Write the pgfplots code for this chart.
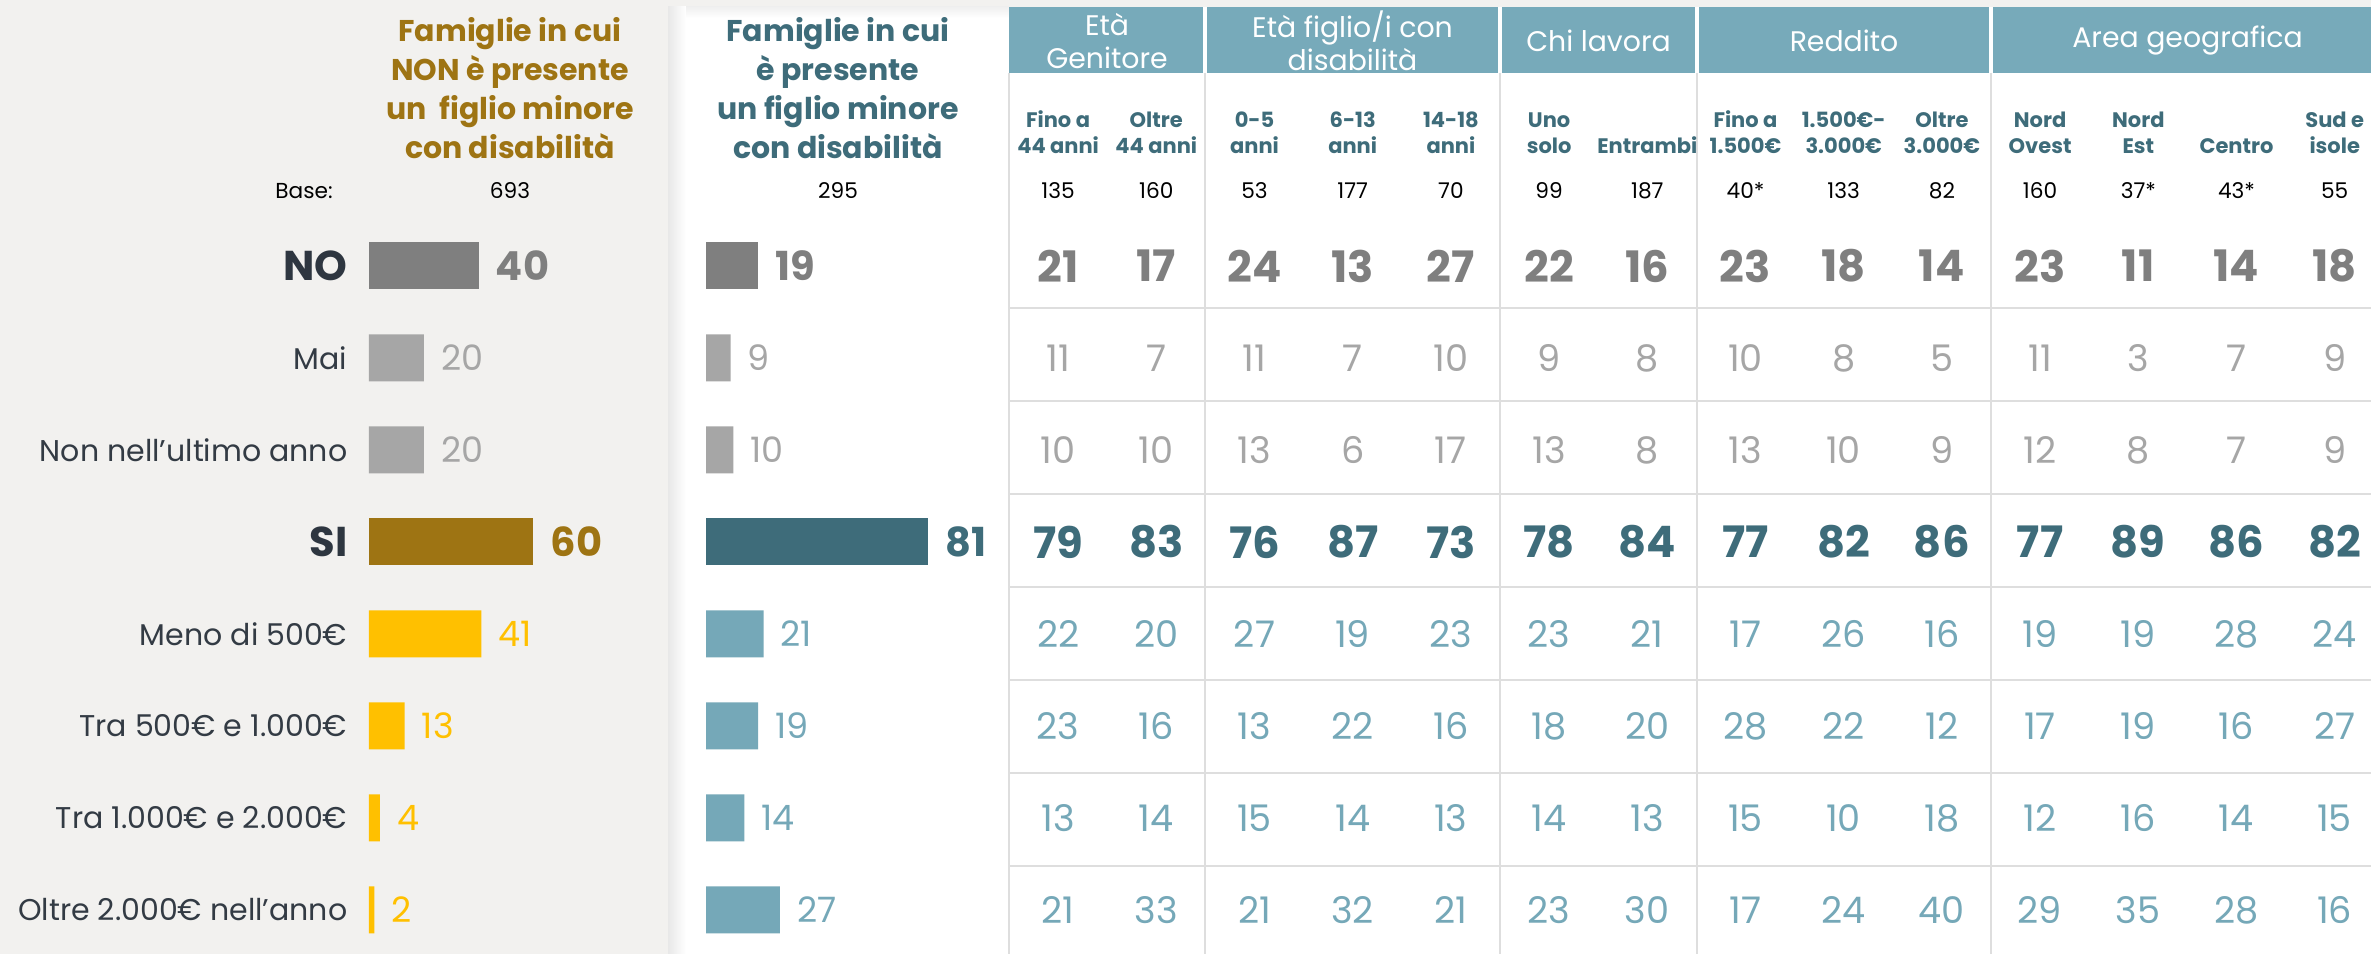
\documentclass[border=0pt]{standalone}
\usepackage{pgfplots}
\pgfplotsset{compat=1.18}
\usepackage{pgfplotstable}
\usepackage{fontspec}
\setmainfont{Poppins}
\definecolor{bgGray}{HTML}{F2F1EF}
\definecolor{goldC}{HTML}{9E7413}
\definecolor{yellowC}{HTML}{FFC000}
\definecolor{darkG}{HTML}{7F7F7F}
\definecolor{lightG}{HTML}{A6A6A6}
\definecolor{darkT}{HTML}{3E6C7A}
\definecolor{lightT}{HTML}{75A8B8}
\definecolor{headT}{HTML}{77AABA}
\definecolor{labC}{HTML}{333B44}
\definecolor{boldLabC}{HTML}{2E3640}
\definecolor{gridC}{HTML}{DEDEDE}
\pgfplotsset{/pgf/number format/assume math mode=true}

\pgfplotstableread{
col NO Mai Non SI Meno TraA TraB Oltre
0 21 11 10 79 22 23 13 21
1 17 7 10 83 20 16 14 33
2 24 11 13 76 27 13 15 21
3 13 7 6 87 19 22 14 32
4 27 10 17 73 23 16 13 21
5 22 9 13 78 23 18 14 23
6 16 8 8 84 21 20 13 30
7 23 10 13 77 17 28 15 17
8 18 8 10 82 26 22 10 24
9 14 5 9 86 16 12 18 40
10 23 11 12 77 19 17 12 29
11 11 3 8 89 19 19 16 35
12 14 7 7 86 28 16 14 28
13 18 9 9 82 24 27 15 16
}\tabdata

\pgfplotsset{
  barax/.style={
    scale only axis, width=82.2pt, height=220.8pt,
    xmin=0, xmax=100, ymin=-0.5, ymax=7.5, y dir=reverse,
    axis line style={draw=none}, xtick=\empty, major tick length=0pt,
    xbar, bar width=14.1pt, bar shift=0pt, clip=false,
    point meta=x, nodes near coords, nodes near coords align=horizontal,
  },
  lightval/.style={every node near coord/.append style={font=\fontsize{10.5}{12}\selectfont, text=#1, inner sep=0pt, xshift=5pt}},
  boldval/.style={every node near coord/.append style={font=\fontsize{12}{14}\selectfont\bfseries, text=#1, inner sep=0pt, xshift=5pt}},
  tabnum/.style 2 args={draw=none, mark=none, nodes near coords, point meta=explicit,
    every node near coord/.append style={anchor=center, inner sep=0pt, font=#1, text=#2}},
}

\begin{document}
\begin{tikzpicture}[x=0.3pt,y=-0.3pt]
\useasboundingbox (0,0) rectangle (2371,954);
\clip (0,0) rectangle (2371,954);
\fill[bgGray] (0,0) rectangle (2371,954);
\fill[white] (668,7) rectangle (2371,954);
\shade[left color=black!9, right color=white] (668,7) rectangle (686,954);
\shade[top color=black!6, bottom color=white] (686,7) rectangle (1009,18);
% header band
\fill[headT] (1009,7) rectangle (2371,73);
\foreach \x in {1205,1500,1697,1991} \draw[white, line width=1pt] (\x,7) -- (\x,73);
% grid
\foreach \x in {1009,1205,1500,1697,1991} \draw[gridC, line width=0.8pt] (\x,73) -- (\x,954);
\foreach \y in {308,401,494,587,680,773,866} \draw[gridC, line width=0.8pt] (1009,\y) -- (2371,\y);

% titles
\node[text=goldC, font=\fontsize{9}{11.7}\selectfont\bfseries, align=center] at (510,88) {Famiglie in cui\\NON è presente\\un\ \ figlio minore\\con disabilità};
\node[text=darkT, font=\fontsize{9}{11.7}\selectfont\bfseries, align=center] at (838,88) {Famiglie in cui\\è presente\\un figlio minore\\con disabilità};
\node[font=\fontsize{6.5}{8}\selectfont] at (304,191) {Base:};
\node[font=\fontsize{6.5}{8}\selectfont] at (510,191) {693};
\node[font=\fontsize{6.5}{8}\selectfont] at (838,191) {295};

% table header groups
\begin{scope}[every node/.style={text=white, font=\fontsize{8.5}{9.9}\selectfont, align=center}]
\node at (1107,41) {Età\\Genitore};
\node at (1352.5,41) {Età figlio/i con\\disabilità};
\node at (1598.5,41) {Chi lavora};
\node at (1844,41) {Reddito};
\node at (2187.5,41) {Area geografica};
\end{scope}
% sub headers
\foreach \i/\a/\b in {0/Fino a/44 anni, 1/Oltre/44 anni, 2/0-5/anni, 3/6-13/anni, 4/14-18/anni, 5/Uno/solo, 6//Entrambi, 7/Fino a/1.500€, 8/1.500€-/3.000€, 9/Oltre/3.000€, 10/Nord/Ovest, 11/Nord/Est, 12//Centro, 13/Sud e/isole}{
  \node[text=darkT, font=\fontsize{6.3}{7.5}\selectfont\bfseries] at ({1009+98.2*(\i+0.5)},123) {\strut\a};
  \node[text=darkT, font=\fontsize{6.3}{7.5}\selectfont\bfseries] at ({1009+98.2*(\i+0.5)},149) {\strut\b};
}
\foreach \i/\v in {0/135, 1/160, 2/53, 3/177, 4/70, 5/99, 6/187, 7/40*, 8/133, 9/82, 10/160, 11/37*, 12/43*, 13/55}{
  \node[font=\fontsize{6.5}{8}\selectfont] at ({1009+98.2*(\i+0.5)},191) {\v};
}

% left bars
\begin{axis}[barax, at={(110.7pt,-66pt)}, anchor=north west,
  ytick={0,...,7},
  yticklabels={{\fontsize{12.5}{14}\selectfont\bfseries\color{boldLabC}NO}, Mai, {Non nell’ultimo anno}, {\fontsize{12.5}{14}\selectfont\bfseries\color{boldLabC}SI}, {Meno di 500€}, {Tra 500€ e 1.000€}, {Tra 1.000€ e 2.000€}, {Oltre 2.000€ nell’anno}},
  yticklabel style={anchor=east, inner sep=0pt, xshift=-6.3pt, font=\fontsize{9}{11}\selectfont, text=labC}]
\addplot[fill=darkG, draw=none, boldval=darkG] coordinates {(40,0)};
\addplot[fill=lightG, draw=none, lightval=lightG] coordinates {(20,1) (20,2)};
\addplot[fill=goldC, draw=none, boldval=goldC] coordinates {(60,3)};
\addplot[fill=yellowC, draw=none, lightval=yellowC] coordinates {(41,4) (13,5) (4,6) (2,7)};
\end{axis}

% middle bars
\begin{axis}[barax, at={(211.8pt,-66pt)}, anchor=north west, ytick=\empty]
\addplot[fill=darkG, draw=none, boldval=darkG] coordinates {(19,0)};
\addplot[fill=lightG, draw=none, lightval=lightG] coordinates {(9,1) (10,2)};
\addplot[fill=darkT, draw=none, boldval=darkT] coordinates {(81,3)};
\addplot[fill=lightT, draw=none, lightval=lightT] coordinates {(21,4) (19,5) (14,6) (27,7)};
\end{axis}

% table numbers
\begin{axis}[at={(302.7pt,-66pt)}, anchor=north west, scale only axis,
  width=412.4pt, height=220.8pt, xmin=-0.5, xmax=13.5, ymin=-0.5, ymax=7.5,
  y dir=reverse, hide axis, clip=false]
\addplot[tabnum={\fontsize{13}{15}\selectfont\bfseries}{darkG}] table[x=col, y expr=0, meta=NO] {\tabdata};
\addplot[tabnum={\fontsize{11}{13}\selectfont}{lightG}] table[x=col, y expr=1, meta=Mai] {\tabdata};
\addplot[tabnum={\fontsize{11}{13}\selectfont}{lightG}] table[x=col, y expr=2, meta=Non] {\tabdata};
\addplot[tabnum={\fontsize{13}{15}\selectfont\bfseries}{darkT}] table[x=col, y expr=3, meta=SI] {\tabdata};
\addplot[tabnum={\fontsize{11}{13}\selectfont}{lightT}] table[x=col, y expr=4, meta=Meno] {\tabdata};
\addplot[tabnum={\fontsize{11}{13}\selectfont}{lightT}] table[x=col, y expr=5, meta=TraA] {\tabdata};
\addplot[tabnum={\fontsize{11}{13}\selectfont}{lightT}] table[x=col, y expr=6, meta=TraB] {\tabdata};
\addplot[tabnum={\fontsize{11}{13}\selectfont}{lightT}] table[x=col, y expr=7, meta=Oltre] {\tabdata};
\end{axis}
\end{tikzpicture}
\end{document}
